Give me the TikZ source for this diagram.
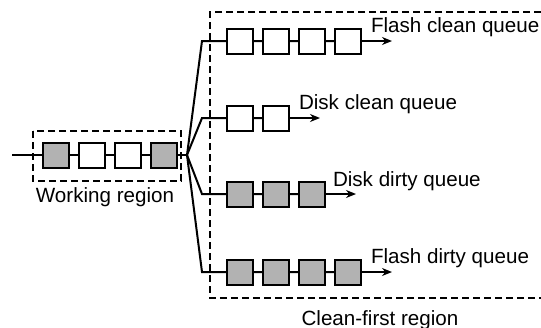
\documentclass[tikz,border=0pt]{standalone}
\usepackage{fontspec}
\setmainfont{Liberation Sans}
\usepackage{tikz}
\usetikzlibrary{arrows.meta}
\usetikzlibrary{positioning}
\tikzset{
    qnode/.style = {rectangle, draw=black, line width=1pt, inner sep=0pt, minimum width=13pt, minimum height=12.5pt},
    clean_node/.style = {qnode, fill=white},
    dirty_node/.style = {qnode, fill=black!30},
    region/.style = {dash pattern=on 3.3pt off 2.2pt, line width=1pt},
    qlabel/.style = {anchor=base west, inner sep=0pt, font=\fontsize{10.3}{12}\selectfont}
}

\begin{document}
\begin{tikzpicture}
    [x=0.5pt, y=-0.5pt, ->, >={Stealth[length=5pt, width=4pt]}, line width=1pt]

    \useasboundingbox (0,0) rectangle (541,327);

    % working region
    \node [dirty_node] (w1) at (56,155) {};
    \node [clean_node, right=4pt of w1] (w2) {};
    \node [clean_node, right=4pt of w2] (w3) {};
    \node [dirty_node, right=4pt of w3] (w4) {};
    \coordinate (in) at (12,155);
    \coordinate (fan) at (187,155);
    \draw [-] (in) -- (w1) (w1) -- (w2) (w2) -- (w3) (w3) -- (w4) (w4) -- (fan);
    \draw [region, -] (33,131) rectangle (181,181);
    \node [qlabel, anchor=base] (wlabel) at (105,202) {Working region};

    % flash clean queue
    \node [clean_node] (fc1) at (240,41) {};
    \node [clean_node, right=4pt of fc1] (fc2) {};
    \node [clean_node, right=4pt of fc2] (fc3) {};
    \node [clean_node, right=4pt of fc3] (fc4) {};
    \coordinate [right=15pt of fc4] (fcend);
    \coordinate (fcc) at (202,41);
    \draw [-] (fan) -- (fcc) -- (fc1) (fc1) -- (fc2) (fc2) -- (fc3) (fc3) -- (fc4);
    \draw (fc4) -- (fcend);
    \node [qlabel] (fclabel) at ([xshift=-11pt, yshift=4.5pt]fcend) {Flash clean queue};

    % disk clean queue
    \node [clean_node] (dc1) at (240,118) {};
    \node [clean_node, right=4pt of dc1] (dc2) {};
    \coordinate [right=15pt of dc2] (dcend);
    \coordinate (dcc) at (202,118);
    \draw [-] (fan) -- (dcc) -- (dc1) (dc1) -- (dc2);
    \draw (dc2) -- (dcend);
    \node [qlabel] (dclabel) at ([xshift=-11pt, yshift=4.5pt]dcend) {Disk clean queue};

    % disk dirty queue
    \node [dirty_node] (dd1) at (240,194) {};
    \node [dirty_node, right=4pt of dd1] (dd2) {};
    \node [dirty_node, right=4pt of dd2] (dd3) {};
    \coordinate [right=15pt of dd3] (ddend);
    \coordinate (ddc) at (202,194);
    \draw [-] (fan) -- (ddc) -- (dd1) (dd1) -- (dd2) (dd2) -- (dd3);
    \draw (dd3) -- (ddend);
    \node [qlabel] (ddlabel) at ([xshift=-12pt, yshift=4pt]ddend) {Disk dirty queue};

    % flash dirty queue
    \node [dirty_node] (fd1) at (240,272) {};
    \node [dirty_node, right=4pt of fd1] (fd2) {};
    \node [dirty_node, right=4pt of fd2] (fd3) {};
    \node [dirty_node, right=4pt of fd3] (fd4) {};
    \coordinate [right=15pt of fd4] (fdend);
    \coordinate (fdc) at (202,272);
    \draw [-] (fan) -- (fdc) -- (fd1) (fd1) -- (fd2) (fd2) -- (fd3) (fd3) -- (fd4);
    \draw (fd4) -- (fdend);
    \node [qlabel] (fdlabel) at ([xshift=-11pt, yshift=4.5pt]fdend) {Flash dirty queue};

    % clean-first region
    \draw [region, -] (541,12) -| (210,298) -- (541,298);
    \node [qlabel, anchor=base] (cflabel) at (380,325) {Clean-first region};
\end{tikzpicture}
\end{document}
